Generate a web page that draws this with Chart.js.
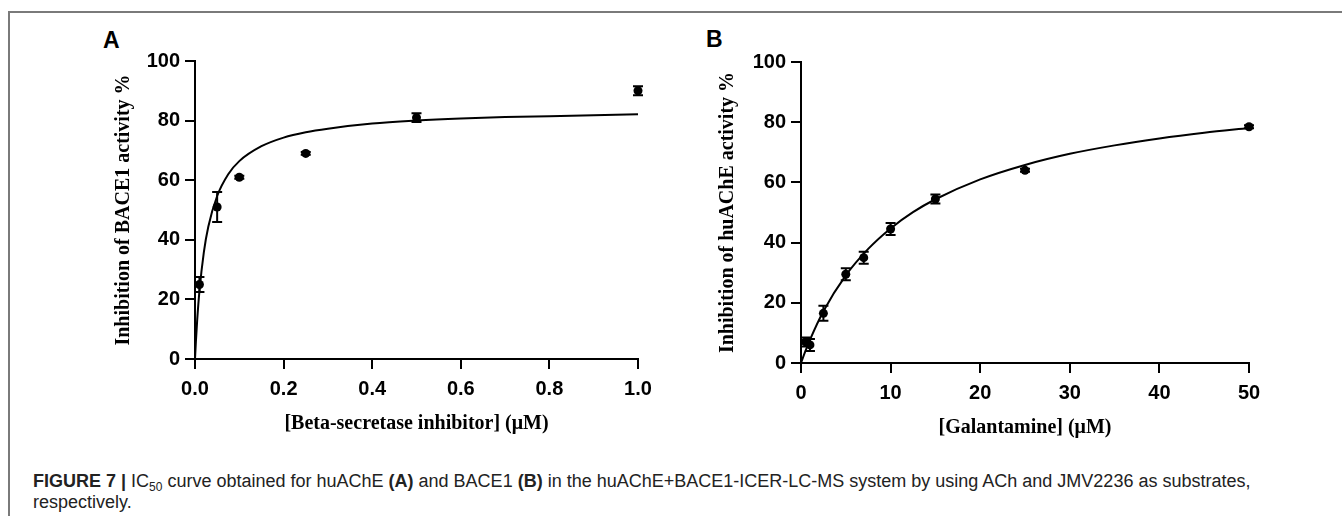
<!DOCTYPE html>
<html>
<head>
<meta charset="utf-8">
<script src="https://cdn.jsdelivr.net/npm/chart.js@4.4.0/dist/chart.umd.min.js"></script>
<style>
	body { margin: 0; background: #fff; width: 1342px; height: 523px; position: relative; overflow: hidden; }
	.frame-top { position: absolute; left: 9px; top: 11px; width: 1333px; height: 0; border-top: 2px solid #7a7a7a; }
	.frame-left { position: absolute; left: 8px; top: 11px; width: 0; height: 505px; border-left: 2px solid #7a7a7a; }
	.panel { position: absolute; }
	.letter { position: absolute; font: bold 23px "Liberation Sans", Arial, sans-serif; color: #000; }
	.caption { position: absolute; left: 33px; top: 471px; width: 1300px; font: 18px "Liberation Sans Narrow", "Arial Narrow", "Liberation Sans", sans-serif; color: #222; line-height: 21px; white-space: nowrap; }
	.caption b { font-weight: bold; }
	.caption sub { font-size: 12px; line-height: 0; vertical-align: baseline; position: relative; top: 4px; }
</style>
</head>
<body>
<div class="frame-top"></div>
<div class="frame-left"></div>
<div class="letter" style="left:103px; top:27px;">A</div>
<div class="letter" style="left:706px; top:26px;">B</div>
<canvas id="chartA" class="panel" style="left:10px; top:13px;" width="680" height="440"></canvas>
<canvas id="chartB" class="panel" style="left:690px; top:13px;" width="652" height="440"></canvas>
<div class="caption"><b>FIGURE 7 |</b> IC<sub>50</sub> curve obtained for huAChE <b>(A)</b> and BACE1 <b>(B)</b> in the huAChE+BACE1-ICER-LC-MS system by using ACh and JMV2236 as substrates,<br>respectively.</div>
<script>
// panel A : BACE1
const bace1Conc = [0.01, 0.05, 0.1, 0.25, 0.5, 1.0];
const bace1Inhib = [25, 51, 61, 69, 81, 90];
const bace1Err = [2.5, 5, 0.5, 0.5, 1.5, 1.5];
const bace1FitX = [0, 0.002, 0.005, 0.01, 0.02, 0.03, 0.05, 0.075, 0.1, 0.15, 0.2, 0.25, 0.3, 0.4, 0.5, 0.6, 0.7, 0.8, 0.9, 1.0];
const bace1FitY = [0, 5.8, 13.2, 22.8, 35.9, 44.4, 54.7, 62.0, 66.4, 71.4, 74.3, 76.1, 77.3, 79.0, 80.0, 80.7, 81.2, 81.5, 81.8, 82.1];
const bace1XTicks = [0, 0.2, 0.4, 0.6, 0.8, 1.0];

// panel B : huAChE
const galConc = [0.5, 1, 2.5, 5, 7, 10, 15, 25, 50];
const achInhib = [7, 6, 16.5, 29.5, 35, 44.5, 54.5, 64, 78.5];
const achErr = [1.5, 2, 2.5, 2, 2, 2, 1.5, 0.5, 0.5];
const galFitX = [0, 0.5, 1, 2.5, 5, 7.5, 10, 12.5, 15, 20, 25, 30, 35, 40, 45, 50];
const galFitY = [0, 4.0, 7.7, 17.2, 29.1, 37.9, 44.7, 50.1, 54.4, 61.0, 65.8, 69.5, 72.3, 74.6, 76.5, 78.1];
const galXTicks = [0, 10, 20, 30, 40, 50];

const yTicks = [0, 20, 40, 60, 80, 100];

const tickFont = {family: '"Liberation Sans", Arial, sans-serif', size: 20, weight: 'bold'};
const titleFont = {family: '"Liberation Serif", "Times New Roman", serif', size: 20, weight: 'bold'};

function toPoints(xs, ys) {
	return xs.map(function (x, i) { return {x: x, y: ys[i]}; });
}

// vertical error bars with caps
const errorBars = {
	id: 'errorBars',
	afterDatasetsDraw(chart) {
		const ctx = chart.ctx;
		const xs = chart.scales.x, ys = chart.scales.y;
		chart.data.datasets.forEach(function (ds) {
			if (!ds.errors) return;
			ctx.save();
			ctx.strokeStyle = '#000';
			ctx.lineWidth = 2;
			ds.data.forEach(function (p, i) {
				const e = ds.errors[i];
				if (!e) return;
				const px = xs.getPixelForValue(p.x);
				const top = ys.getPixelForValue(p.y + e);
				const bot = ys.getPixelForValue(p.y - e);
				ctx.beginPath();
				ctx.moveTo(px, top); ctx.lineTo(px, bot);
				ctx.moveTo(px - 5, top); ctx.lineTo(px + 5, top);
				ctx.moveTo(px - 5, bot); ctx.lineTo(px + 5, bot);
				ctx.stroke();
			});
			ctx.restore();
		});
	}
};

function panel(bind, cfg) {
	return new Chart(document.getElementById(bind), {
		type: 'scatter',
		data: {
			datasets: [{
				data: toPoints(cfg.conc, cfg.inhib),
				errors: cfg.err,
				pointRadius: 4.5,
				pointBackgroundColor: '#000',
				pointBorderColor: '#000',
				borderWidth: 0,
				clip: false
			}, {
				data: toPoints(cfg.fitX, cfg.fitY),
				showLine: true,
				borderColor: '#000',
				borderWidth: 2,
				pointRadius: 0,
				cubicInterpolationMode: 'monotone',
				clip: false
			}]
		},
		options: {
			responsive: false,
			animation: false,
			devicePixelRatio: 1,
			layout: {padding: cfg.pad},
			plugins: {legend: {display: false}, tooltip: {enabled: false}},
			scales: {
				x: {
					type: 'linear',
					min: cfg.xTicks[0],
					max: cfg.xTicks[cfg.xTicks.length - 1],
					afterBuildTicks: function (scale) {
						scale.ticks = cfg.xTicks.map(function (v) { return {value: v}; });
					},
					afterFit: function (scale) { scale.height = cfg.xHeight; },
					grid: {drawOnChartArea: false, drawTicks: true, tickLength: 10, color: '#000', lineWidth: 2},
					border: {display: true, color: '#000', width: 2},
					ticks: {
						color: '#000', font: tickFont, padding: 8, maxRotation: 0,
						callback: function (v) { return cfg.xFmt(v); }
					},
					title: {display: true, text: cfg.xTitle, color: '#000', font: titleFont, padding: {top: 0, bottom: cfg.xTitlePad}}
				},
				y: {
					min: 0,
					max: 100,
					afterBuildTicks: function (scale) {
						scale.ticks = yTicks.map(function (v) { return {value: v}; });
					},
					afterFit: function (scale) { scale.width = cfg.yWidth; },
					grid: {drawOnChartArea: false, drawTicks: true, tickLength: 10, color: '#000', lineWidth: 2},
					border: {display: true, color: '#000', width: 2},
					ticks: {color: '#000', font: tickFont, padding: 5},
					title: {display: true, text: cfg.yTitle, color: '#000', font: titleFont, padding: {top: cfg.yTitlePad, bottom: 0}}
				}
			}
		},
		plugins: [errorBars]
	});
}

panel('chartA', {
	conc: bace1Conc, inhib: bace1Inhib, err: bace1Err,
	fitX: bace1FitX, fitY: bace1FitY,
	xTicks: bace1XTicks,
	xFmt: function (v) { return v.toFixed(1); },
	xTitle: '[Beta-secretase inhibitor] (\u03bcM)',
	yTitle: 'Inhibition of BACE1 activity %',
	pad: {left: 0, top: 48, right: 52, bottom: 0},
	xHeight: 94, yWidth: 185,
	xTitlePad: 17, yTitlePad: 102
});

panel('chartB', {
	conc: galConc, inhib: achInhib, err: achErr,
	fitX: galFitX, fitY: galFitY,
	xTicks: galXTicks,
	xFmt: function (v) { return String(v); },
	xTitle: '[Galantamine] (\u03bcM)',
	yTitle: 'Inhibition of huAChE activity %',
	pad: {left: 0, top: 49, right: 93, bottom: 0},
	xHeight: 90, yWidth: 111,
	xTitlePad: 13, yTitlePad: 26
});
</script>
</body>
</html>
